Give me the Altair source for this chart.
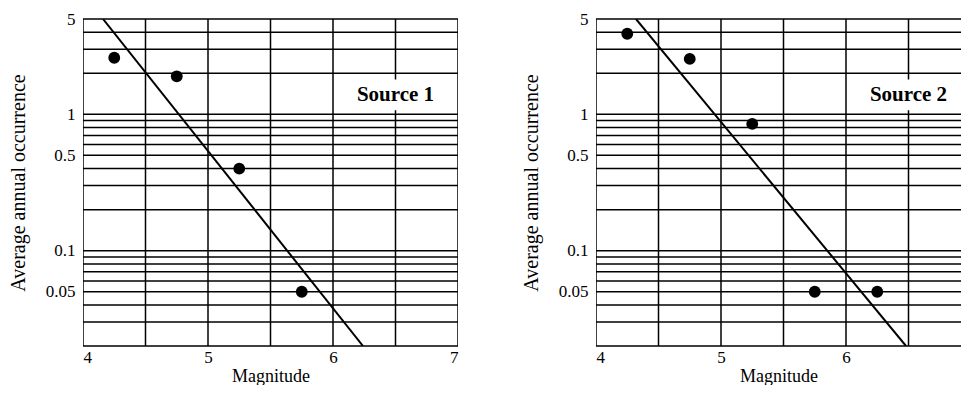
import altair as alt
import pandas as pd

# ---- data ----
x_grid = [4, 4.5, 5, 5.5, 6, 6.5, 7]
y_grid = [0.02, 0.03, 0.04, 0.05, 0.06, 0.07, 0.08, 0.09,
          0.1, 0.2, 0.3, 0.4, 0.5, 0.6, 0.7, 0.8, 0.9,
          1, 2, 3, 4, 5]
x_ticks = [4, 5, 6, 7]
y_ticks = [0.05, 0.1, 0.5, 1, 5]

s1_mag = [4.25, 4.75, 5.25, 5.75]
s1_occ = [2.6, 1.9, 0.4, 0.05]
s1_fit_mag = [4.16, 6.24]
s1_fit_occ = [5, 0.02]

s2_mag = [4.25, 4.75, 5.25, 5.75, 6.25]
s2_occ = [3.9, 2.55, 0.85, 0.05, 0.05]
s2_fit_mag = [4.32, 6.48]
s2_fit_occ = [5, 0.02]

source_labels = ["Source 1", "Source 2"]
label_mag = [6.5]
label_occ = [1.38]
box_mag = [6.12, 6.86]
box_occ = [1.07, 1.80]

FONT = "Liberation Serif"
PX_PER_MAG = 125
PLOT_H = 327


def panel(mag, occ, fit_mag, fit_occ, label, xmax):
    xs = alt.Scale(domain=[4, xmax], nice=False, zero=False)
    ys = alt.Scale(type="log", domain=[0.02, 5], nice=False)
    xaxis = alt.Axis(values=[v for v in x_ticks if v <= xmax], title="Magnitude",
                     grid=False, ticks=False, domain=False, labelPadding=3,
                     titlePadding=2, format="d", titleFontSize=18)
    yaxis = alt.Axis(values=y_ticks, title="Average annual occurrence", grid=False,
                     ticks=False, domain=False, labelPadding=8, titlePadding=17,
                     format="~g", titleFontSize=20)
    X = lambda f="m": alt.X(f"{f}:Q", scale=xs, axis=xaxis)
    Y = lambda f="o": alt.Y(f"{f}:Q", scale=ys, axis=yaxis)

    hgrid = alt.Chart(pd.DataFrame({"o": y_grid})).mark_rule(
        color="black", strokeWidth=1.5).encode(y=Y())
    vgrid = alt.Chart(pd.DataFrame({"m": x_grid})).mark_rule(
        color="black", strokeWidth=1.5, clip=True).encode(x=X())
    box = alt.Chart(pd.DataFrame({"m": [box_mag[0]], "m2": [box_mag[1]],
                                  "o": [box_occ[0]], "o2": [box_occ[1]]})).mark_rect(
        color="white").encode(x=X(), x2="m2:Q", y=Y(), y2="o2:Q")
    fit = alt.Chart(pd.DataFrame({"m": fit_mag, "o": fit_occ})).mark_line(
        color="black", strokeWidth=2, clip=True).encode(x=X(), y=Y())
    pts = alt.Chart(pd.DataFrame({"m": mag, "o": occ})).mark_circle(
        color="black", size=140, opacity=1).encode(x=X(), y=Y())
    txt = alt.Chart(pd.DataFrame({"m": label_mag, "o": label_occ, "t": [label]})).mark_text(
        font=FONT, fontSize=21, fontWeight="bold", color="black",
        align="center", baseline="middle").encode(x=X(), y=Y(), text="t:N")
    return alt.layer(hgrid, vgrid, box, fit, pts, txt).properties(
        width=round((xmax - 4) * PX_PER_MAG), height=PLOT_H)


left = panel(s1_mag, s1_occ, s1_fit_mag, s1_fit_occ, source_labels[0], 7)
right = panel(s2_mag, s2_occ, s2_fit_mag, s2_fit_occ, source_labels[1], 6.92)

chart = alt.hconcat(left, right, spacing=62).properties(
    padding={"left": 0, "top": 2, "right": 0, "bottom": 0}
).configure_view(
    strokeWidth=0
).configure_axis(
    labelFont=FONT, labelFontSize=17, labelColor="black",
    titleFont=FONT, titleFontWeight="normal", titleColor="black"
)

chart.save("out.html", embed_options={"renderer": "svg", "actions": False})
